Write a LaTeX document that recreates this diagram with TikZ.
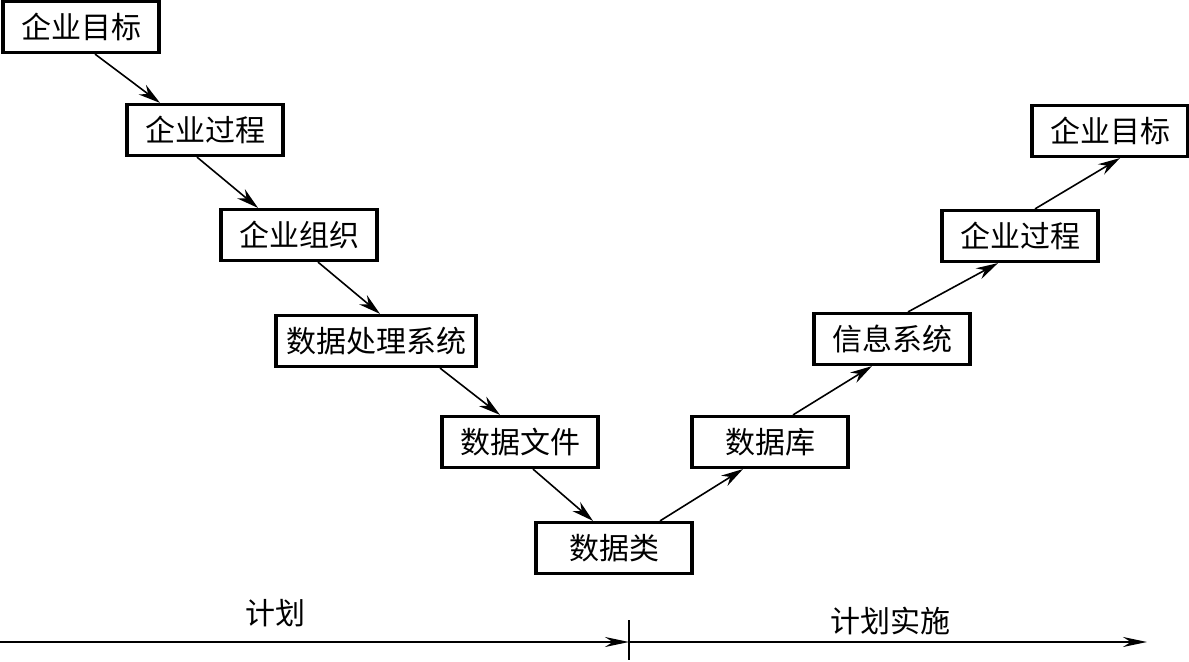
\documentclass[tikz,border=0pt]{standalone}
\usepackage{fontspec}
\setmainfont{Noto Sans CJK SC}
\usetikzlibrary{arrows.meta}
\tikzset{
  blk/.style={draw, line width=1.6pt, minimum width=78pt, minimum height=25.5pt,
    inner xsep=5pt, font=\fontsize{15}{15}\selectfont},
  flow/.style={line width=0.8pt, -{Stealth[length=11pt,width=6pt]}},
  axis/.style={line width=1pt, -{Stealth[length=12pt,width=5pt]}},
  lbl/.style={font=\fontsize{15}{15}\selectfont}
}

\begin{document}
\begin{tikzpicture}[x=0.5pt, y=-0.5pt]
		\useasboundingbox (0, 0) rectangle (1189, 662);
		%%%%% DOWN %%%%%
		\node[blk] (goal) at (81, 27) {企业目标};
		\node[blk] (proc) at (205, 130) {企业过程};
		\node[blk] (org) at (299, 235) {企业组织};
		\node[blk] (dps) at (376, 341) {数据处理系统};
		\node[blk] (files) at (520, 442) {数据文件};
		\node[blk] (classes) at (614, 548) {数据类};
		%%%%% UP %%%%%
		\node[blk] (db) at (770, 442) {数据库};
		\node[blk] (infosys) at (892, 339) {信息系统};
		\node[blk] (proc2) at (1020, 236) {企业过程};
		\node[blk] (goal2) at (1110, 131) {企业目标};
		
		\draw[flow] ([xshift=7pt]goal.south) -- ([xshift=-22.5pt]proc.north);
		\draw[flow] ([xshift=-4pt]proc.south) -- ([xshift=-20.5pt]org.north);
		\draw[flow] ([xshift=9.5pt]org.south) -- ([xshift=2pt]dps.north);
		\draw[flow] ([xshift=32pt]dps.south) -- ([xshift=-10pt]files.north);
		\draw[flow] ([xshift=6.5pt]files.south) -- ([xshift=-10.5pt]classes.north);
		\draw[flow] ([xshift=23pt]classes.north) -- ([xshift=-13.5pt]db.south);
		\draw[flow] ([xshift=11.5pt]db.north) -- ([xshift=-10pt]infosys.south);
		\draw[flow] ([xshift=8pt]infosys.north) -- ([xshift=-11pt]proc2.south);
		\draw[flow] ([xshift=7.5pt]proc2.north) -- ([xshift=5pt]goal2.south);
		
		%%%%% TIME LINE %%%%%
		\coordinate (t0) at (0, 642);
		\coordinate (tm) at (629, 642);
		\coordinate (t1) at (1147, 642);
		\draw[axis] (t0) -- (tm);
		\draw[axis] (tm) -- (t1);
		\draw[line width=0.8pt] ([yshift=11pt]tm) -- ([yshift=-9pt]tm);
		\node[lbl] (plan) at (275, 613) {计划};
		\node[lbl] (run) at (890, 621) {计划实施};
	\end{tikzpicture}
\end{document}
